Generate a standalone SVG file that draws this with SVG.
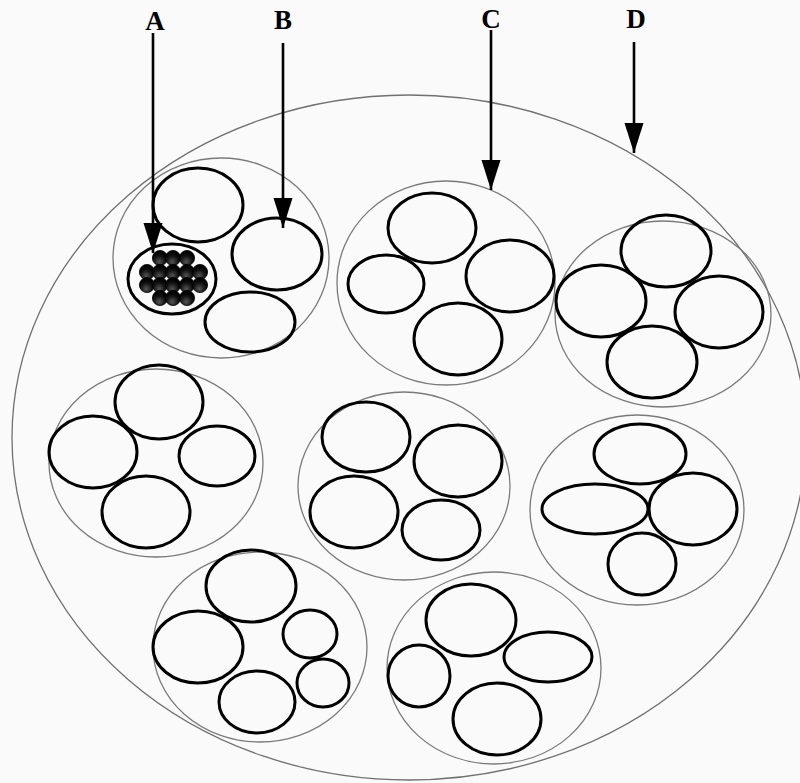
<svg xmlns="http://www.w3.org/2000/svg" width="800" height="783" viewBox="0 0 800 783">
<defs>
<marker id="ah" viewBox="0 -10 30 20" refX="30" refY="0" markerWidth="30" markerHeight="20" markerUnits="userSpaceOnUse" orient="auto">
<path d="M0,-9.5 L30,0 L0,9.5 Z" fill="#000"/>
</marker>
<radialGradient id="wire" cx="0.45" cy="0.75" r="0.6">
<stop offset="0" stop-color="#555"/>
<stop offset="0.6" stop-color="#151515"/>
<stop offset="1" stop-color="#000"/>
</radialGradient>
<style>
.outer{fill:none;stroke:#7a7a7a;stroke-width:1.3}
.big{fill:none;stroke:#707070;stroke-width:1.3}
.in{fill:none;stroke:#000;stroke-width:3}
.arr{stroke:#000;stroke-width:2.6;fill:none}
.lbl{font-family:"Liberation Serif",serif;font-weight:bold;font-size:27px;fill:#000;text-anchor:middle}
.w{fill:url(#wire);stroke:#000;stroke-width:0.8}
</style>
</defs>
<rect width="800" height="783" fill="#fafafa"/>
<g id="sheath">
<ellipse class="big" cx="409" cy="437.5" rx="397" ry="342.5"/>
</g>
<g id="bundle1">
<ellipse class="outer" cx="221" cy="258" rx="108" ry="100"/>
<ellipse class="in" cx="198" cy="205" rx="45" ry="37"/>
<ellipse class="in" cx="277" cy="254" rx="45" ry="36"/>
<ellipse class="in" cx="250" cy="322" rx="45" ry="30"/>
<g id="fibre-A">
<ellipse class="in" cx="172" cy="279" rx="44" ry="35"/>
<circle class="w" cx="160" cy="258" r="7.6"/><circle class="w" cx="173" cy="258" r="7.6"/><circle class="w" cx="187" cy="258" r="7.6"/>
<circle class="w" cx="147" cy="272" r="7.6"/><circle class="w" cx="160" cy="272" r="7.6"/><circle class="w" cx="173" cy="272" r="7.6"/><circle class="w" cx="187" cy="272" r="7.6"/><circle class="w" cx="200" cy="272" r="7.6"/>
<circle class="w" cx="147" cy="285" r="7.6"/><circle class="w" cx="160" cy="285" r="7.6"/><circle class="w" cx="173" cy="285" r="7.6"/><circle class="w" cx="187" cy="285" r="7.6"/><circle class="w" cx="200" cy="285" r="7.6"/>
<circle class="w" cx="160" cy="298" r="7.6"/><circle class="w" cx="173" cy="298" r="7.6"/><circle class="w" cx="187" cy="298" r="7.6"/>
</g>
</g>
<g id="bundle2">
<ellipse class="outer" cx="446" cy="283" rx="109" ry="102"/>
<ellipse class="in" cx="432" cy="228" rx="44" ry="35"/>
<ellipse class="in" cx="386" cy="284" rx="38" ry="29"/>
<ellipse class="in" cx="510" cy="276" rx="44" ry="36"/>
<ellipse class="in" cx="458" cy="339" rx="44" ry="36"/>
</g>
<g id="bundle3">
<ellipse class="outer" cx="663" cy="314" rx="108" ry="93"/>
<ellipse class="in" cx="666" cy="251" rx="45" ry="36"/>
<ellipse class="in" cx="601" cy="301" rx="45" ry="36"/>
<ellipse class="in" cx="719" cy="312" rx="44" ry="36"/>
<ellipse class="in" cx="652" cy="362" rx="45" ry="36"/>
</g>
<g id="bundle4">
<ellipse class="outer" cx="156" cy="463" rx="107" ry="94"/>
<ellipse class="in" cx="159" cy="402" rx="44" ry="37"/>
<ellipse class="in" cx="93" cy="452" rx="44" ry="36"/>
<ellipse class="in" cx="217" cy="456" rx="38" ry="30"/>
<ellipse class="in" cx="146" cy="512" rx="44" ry="36"/>
</g>
<g id="bundle5">
<ellipse class="outer" cx="404" cy="486" rx="106" ry="94"/>
<ellipse class="in" cx="366" cy="437" rx="44" ry="35"/>
<ellipse class="in" cx="458" cy="461" rx="44" ry="36"/>
<ellipse class="in" cx="354" cy="512" rx="44" ry="36"/>
<ellipse class="in" cx="441" cy="530" rx="39" ry="30"/>
</g>
<g id="bundle6">
<ellipse class="outer" cx="637" cy="510" rx="107" ry="95"/>
<ellipse class="in" cx="640" cy="454" rx="46" ry="30"/>
<ellipse class="in" cx="595" cy="509" rx="53" ry="25"/>
<ellipse class="in" cx="693" cy="509" rx="44" ry="36"/>
<ellipse class="in" cx="642" cy="564" rx="34" ry="31"/>
</g>
<g id="bundle7">
<ellipse class="outer" cx="260" cy="647" rx="107" ry="95"/>
<ellipse class="in" cx="251" cy="586" rx="45" ry="36"/>
<ellipse class="in" cx="198" cy="647" rx="45" ry="36"/>
<ellipse class="in" cx="310" cy="634" rx="27" ry="24"/>
<ellipse class="in" cx="323" cy="683" rx="26" ry="24"/>
<ellipse class="in" cx="257" cy="702" rx="38" ry="31"/>
</g>
<g id="bundle8">
<ellipse class="outer" cx="494" cy="668" rx="107" ry="96"/>
<ellipse class="in" cx="471" cy="620" rx="45" ry="36"/>
<ellipse class="in" cx="419" cy="676" rx="31" ry="31"/>
<ellipse class="in" cx="548" cy="657" rx="44" ry="25"/>
<ellipse class="in" cx="497" cy="719" rx="44" ry="36"/>
</g>
<g id="connectors">
<line class="arr" x1="153" y1="33" x2="153" y2="253" marker-end="url(#ah)"/>
<line class="arr" x1="283" y1="43" x2="283" y2="228" marker-end="url(#ah)"/>
<line class="arr" x1="491" y1="30" x2="491" y2="190" marker-end="url(#ah)"/>
<line class="arr" x1="634" y1="42" x2="634" y2="153" marker-end="url(#ah)"/>
</g>
<g id="labels">
<text class="lbl" x="155" y="30">A</text>
<text class="lbl" x="283" y="29">B</text>
<text class="lbl" x="491" y="28">C</text>
<text class="lbl" x="636" y="28">D</text>
</g>
</svg>
